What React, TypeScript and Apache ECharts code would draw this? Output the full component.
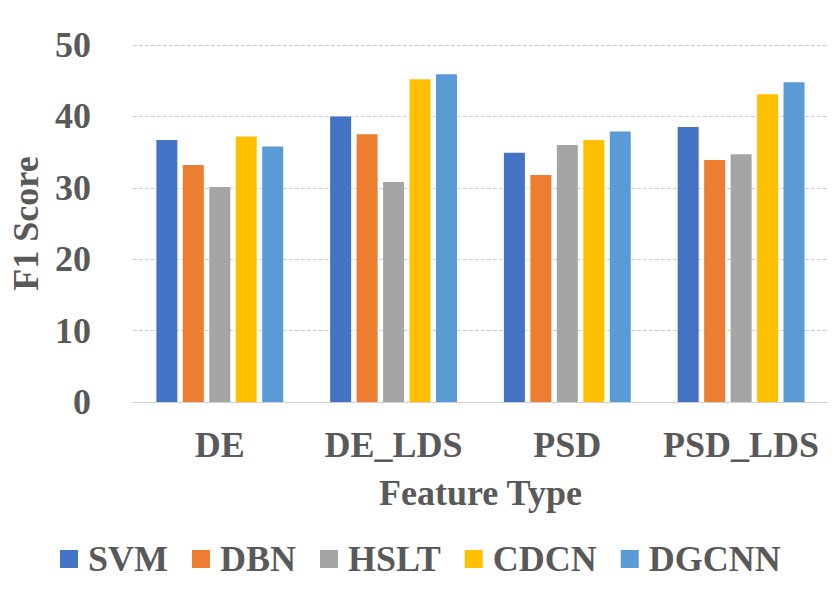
import React, { useEffect, useRef } from "react";
import * as echarts from "echarts";

const categories = ["DE", "DE_LDS", "PSD", "PSD_LDS"];
const seriesNames = ["SVM", "DBN", "HSLT", "CDCN", "DGCNN"];
const svm = [36.7, 40.0, 34.9, 38.5];
const dbn = [33.2, 37.5, 31.8, 33.9];
const hslt = [30.1, 30.8, 36.0, 34.7];
const cdcn = [37.2, 45.2, 36.7, 43.1];
const dgcnn = [35.8, 45.9, 37.9, 44.8];
const colors = ["#4472C4", "#ED7D31", "#A5A5A5", "#FFC000", "#5B9BD5"];

const FONT = "'Liberation Serif', 'Times New Roman', serif";
const TEXT = "#595959";

export default function App() {
  const ref = useRef<HTMLDivElement>(null);
  useEffect(() => {
    if (!ref.current) return;
    const chart = echarts.init(ref.current, undefined, { renderer: "svg" });
    const values = [svm, dbn, hslt, cdcn, dgcnn];
    chart.setOption({
      animation: false,
      backgroundColor: "#ffffff",
      textStyle: { fontFamily: FONT },
      grid: { left: 131, right: 4, top: 45, bottom: 203, containLabel: false },
      legend: {
        data: seriesNames,
        left: 55,
        top: 536,
        itemWidth: 18,
        itemHeight: 18,
        itemGap: 24,
        icon: "rect",
        textStyle: {
          fontFamily: FONT,
          fontWeight: "bold",
          fontSize: 36,
          color: TEXT,
          padding: [0, 0, 0, 5],
        },
      },
      xAxis: {
        type: "category",
        data: categories,
        name: "Feature Type",
        nameLocation: "middle",
        nameGap: 73,
        nameTextStyle: { fontFamily: FONT, fontWeight: "bold", fontSize: 36, color: TEXT },
        axisLine: { show: true, lineStyle: { color: "#D0D0D0", width: 1 } },
        axisTick: { show: false },
        axisLabel: {
          interval: 0,
          hideOverlap: false,
          fontFamily: FONT,
          fontWeight: "bold",
          fontSize: 36,
          color: TEXT,
          margin: 25,
        },
      },
      yAxis: {
        type: "value",
        min: 0,
        max: 50,
        interval: 10,
        name: "F1 Score",
        nameLocation: "middle",
        nameGap: 86,
        nameRotate: 90,
        nameTextStyle: { fontFamily: FONT, fontWeight: "bold", fontSize: 36, color: TEXT },
        axisLine: { show: false },
        axisTick: { show: false },
        axisLabel: { fontFamily: FONT, fontWeight: "bold", fontSize: 36, color: TEXT, margin: 42 },
        splitLine: { show: true, lineStyle: { color: "#D0D0D0", width: 1, type: [4, 2] } },
      },
      series: seriesNames.map((name, i) => ({
        name,
        type: "bar",
        data: values[i],
        barGap: "26%",
        barCategoryGap: "27%",
        itemStyle: { color: colors[i] },
      })),
    });
    return () => chart.dispose();
  }, []);
  return (
    <div
      ref={ref}
      style={{ position: "fixed", left: 0, top: 0, width: 832, height: 605 }}
    />
  );
}
